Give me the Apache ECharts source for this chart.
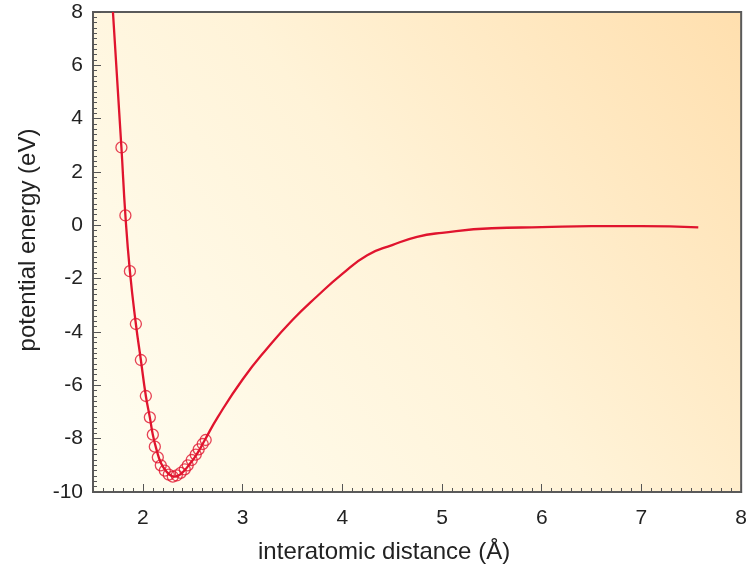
<!DOCTYPE html>
<html>
<head>
    <title>potential energy curve</title>
    <meta http-equiv="content-type" content="text/html; charset=utf-8">
    <script src="https://cdn.jsdelivr.net/npm/echarts@6/dist/echarts.min.js"></script>
    <style type="text/css">
        html, body { margin: 0; padding: 0; background: #fff; }
        #main { width: 750px; height: 574px; }
    </style>
</head>
<body>
    <div id="main"></div>
    <script type="text/javascript">
        // fitted curve (distance in Å, energy in eV)
        var curveX = [1.70, 1.785, 1.825, 1.87, 1.93, 1.98, 2.03, 2.07, 2.10, 2.14, 2.18, 2.23, 2.28, 2.32, 2.37, 2.42, 2.47, 2.52, 2.57, 2.62, 2.75, 3.00, 3.25, 3.50, 3.75, 4.00, 4.25, 4.50, 4.75, 5.00, 5.50, 6.00, 6.50, 7.00, 7.57];
        var curveY = [8.0, 2.92, 0.37, -1.72, -3.7, -5.05, -6.4, -7.2, -7.85, -8.45, -8.9, -9.2, -9.38, -9.42, -9.35, -9.18, -8.95, -8.7, -8.4, -8.06, -7.2, -5.78, -4.6, -3.55, -2.65, -1.82, -1.12, -0.74, -0.43, -0.28, -0.11, -0.07, -0.03, -0.03, -0.08];
        // computed points (circles)
        var pointX = [1.785, 1.825, 1.87, 1.93, 1.98, 2.03, 2.07, 2.10, 2.12, 2.15, 2.18, 2.22, 2.26, 2.30, 2.34, 2.38, 2.42, 2.45, 2.49, 2.53, 2.56, 2.60, 2.63];
        var pointY = [2.92, 0.37, -1.72, -3.7, -5.05, -6.4, -7.2, -7.85, -8.3, -8.7, -9.0, -9.2, -9.35, -9.42, -9.38, -9.28, -9.15, -9.0, -8.8, -8.6, -8.4, -8.2, -8.05];
        var xLabels = [2, 3, 4, 5, 6, 7, 8];

        var zip = function (a, b) { return a.map(function (v, i) { return [v, b[i]]; }); };
        var red = '#e0142e';
        var tickColor = '#555';
        var font = 'Liberation Sans, Arial, sans-serif';

        var chart = echarts.init(document.getElementById('main'));
        var option = {
            backgroundColor: '#fff',
            animation: false,
            grid: {
                left: 93, right: 4, top: 12, bottom: 82,
                show: true,
                borderColor: '#5a5a5a',
                borderWidth: 2,
                backgroundColor: new echarts.graphic.LinearGradient(0, 1, 1, 0, [
                    { offset: 0, color: '#fffef2' },
                    { offset: 0.5, color: '#fff3d8' },
                    { offset: 1, color: '#ffdfae' }
                ])
            },
            xAxis: [{
                type: 'value',
                min: 1.5, max: 8, interval: 0.1,
                name: 'interatomic distance (Å)',
                nameLocation: 'middle',
                nameGap: 48,
                nameTextStyle: { fontSize: 24, color: '#222', fontFamily: font, padding: [0, 66, 0, 0] },
                axisLine: { onZero: false, lineStyle: { color: '#5a5a5a', width: 2 } },
                axisTick: { inside: true, length: 8, customValues: xLabels, lineStyle: { color: tickColor } },
                axisLabel: { customValues: xLabels, margin: 16, fontSize: 21, color: '#222', fontFamily: font },
                splitLine: { show: false }
            }, {
                type: 'value',
                position: 'bottom',
                min: 1.5, max: 8, interval: 0.1,
                axisLine: { show: false, onZero: false },
                axisTick: { inside: true, length: 4, lineStyle: { color: tickColor } },
                axisLabel: { show: false },
                splitLine: { show: false }
            }],
            yAxis: {
                type: 'value',
                min: -10, max: 8, interval: 2,
                name: 'potential energy (eV)',
                nameLocation: 'middle',
                nameGap: 53,
                nameTextStyle: { fontSize: 24, color: '#222', fontFamily: font, padding: [0, 0, 0, 24] },
                axisLine: { onZero: false, lineStyle: { color: '#5a5a5a', width: 2 } },
                axisTick: { inside: true, length: 8, lineStyle: { color: tickColor } },
                minorTick: { show: true, splitNumber: 10, length: 4, lineStyle: { color: tickColor } },
                axisLabel: { margin: 10, fontSize: 21, color: '#222', fontFamily: font },
                splitLine: { show: false }
            },
            series: [{
                type: 'line',
                data: zip(curveX, curveY),
                smooth: 0.5,
                showSymbol: false,
                lineStyle: { color: red, width: 2.3 },
                z: 3
            }, {
                type: 'scatter',
                data: zip(pointX, pointY),
                symbol: 'circle',
                symbolSize: 11,
                itemStyle: { color: 'transparent', borderColor: red, borderWidth: 1.3 },
                z: 4
            }]
        };
        chart.setOption(option);
    </script>
</body>
</html>
